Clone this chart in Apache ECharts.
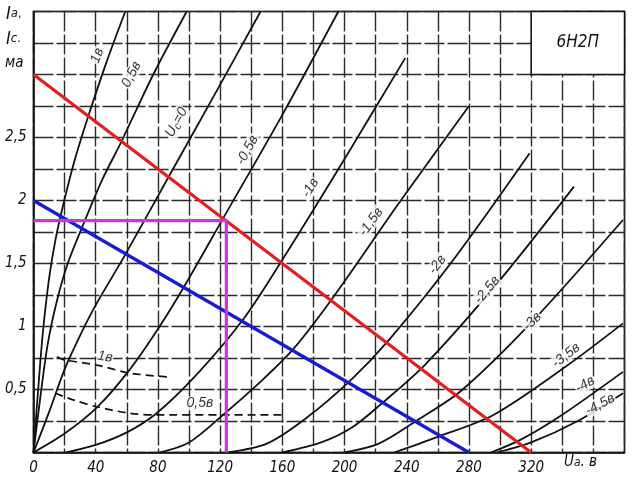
<!DOCTYPE html>
<html><head><meta charset="utf-8">
<script src="https://cdn.jsdelivr.net/npm/echarts@6/dist/echarts.min.js"></script>
<style>html,body{margin:0;padding:0;background:#fff}#c{width:633px;height:480px}</style>
</head><body><div id="c"></div>
<script>
// ---- axis ticks ----
const xTickValues = [0, 40, 80, 120, 160, 200, 240, 280, 320];
const yTickValues = [0.5, 1, 1.5, 2, 2.5];
const yTickText = ['0,5', '1', '1,5', '2', '2,5'];

// ---- anode characteristics Ia(Ua) for grid voltage Uc ----
const curveP1  = [[0,0],[3,0.5],[6,0.95],[10,1.38],[14,1.68],[19,1.96],[26,2.3],[35,2.66],[47,3.1],[59,3.5]];
const curveP05 = [[0,0],[4,0.4],[9,0.85],[15,1.2],[22,1.5],[32,1.81],[44,2.16],[57,2.48],[77,3.0],[98.5,3.5]];
const curve0   = [[0,0],[10,0.32],[20,0.66],[30,0.93],[40,1.17],[59,1.57],[87,2.19],[116,2.83],[146,3.5]];
const curveM05 = [[0,0],[20,0.15],[41,0.36],[62,0.66],[80,0.98],[97,1.32],[122,1.86],[160,2.68],[196,3.5]];
const curveM1  = [[21,0],[40,0.06],[60,0.16],[79,0.31],[105,0.62],[135,1.06],[160,1.53],[200,2.33],[239,3.13]];
const curveM15 = [[81,0],[100,0.08],[122,0.3],[145,0.55],[167,0.82],[192,1.22],[235,1.98],[280,2.75]];
const curveM2  = [[125,0],[150,0.07],[175,0.27],[204,0.575],[229,0.9],[270,1.53],[319,2.375]];
const curveM25 = [[160,0],[185,0.08],[205,0.2],[224,0.39],[252,0.7],[300,1.37],[347.5,2.11]];
const curveM3  = [[200,0],[222,0.07],[246,0.25],[275,0.49],[320,1.03],[379,1.845]];
const curveM35 = [[232,0],[259,0.12],[296,0.3],[342,0.68],[379,1.025]];
const curveM4  = [[294,0],[313,0.1],[340,0.3],[379,0.64]];
const curveM45 = [[298,0],[320,0.08],[350,0.25],[379,0.47]];
const solidCurves = [curveP1, curveP05, curve0, curveM05, curveM1, curveM15, curveM2, curveM25, curveM3, curveM35, curveM4, curveM45];

// ---- grid current Ic (dashed) ----
const icP1  = [[15,0.76],[20,0.735],[40.6,0.694],[62,0.63],[86,0.6]];
const icP05 = [[14,0.47],[25,0.42],[40.6,0.363],[62,0.311],[79,0.298],[160,0.298]];

// ---- load lines and operating point ----
const loadRed  = [[0,3],[320,0]];
const loadBlue = [[0,2],[280,0]];
const opPoint  = [[0,1.84],[124,1.84],[124,0]];

// ---- curve labels ----
const labelText = ['1в','0,5в','Uс=0','-0,5в','-1в','-1,5в','-2в','-2,5в','-3в','-3,5в','-4в','-4,5в','1в','0,5в'];
const labelPos  = [[41,3.15],[63,3.0],[92,2.62],[137.5,2.4],[178,2.1],[217,1.83],[259.6,1.49],[291.6,1.29],[320.6,1.04],[342.4,0.77],[354.7,0.54],[364.3,0.38],[46,0.76],[107,0.39]];
const labelRot  = [70,63,61,61,58,54,53,50,45,38,30,28,-8,0];

// ---- title box ----
const boxX = [320, 380];
const boxY = [3.0, 3.5];
const tubeName = '6Н2П';

const font = "'Liberation Sans Narrow','DejaVu Sans Condensed','Liberation Sans',sans-serif";
const lfont = "'Liberation Sans','DejaVu Sans',sans-serif";
const ink = '#111';

const series = [];
solidCurves.forEach(d => series.push({
  type: 'line', data: d, smooth: 0.3, symbol: 'none', silent: true,
  lineStyle: {color: ink, width: 1.8}, z: 3
}));
[icP1, icP05].forEach(d => series.push({
  type: 'line', data: d, smooth: 0.3, symbol: 'none', silent: true,
  lineStyle: {color: ink, width: 1.7, type: [8, 5]}, z: 3
}));
series.push({type:'line', data: loadRed, symbol:'none', lineStyle:{color:'#e41e1e', width:3.2}, z:5});
series.push({type:'line', data: loadBlue, symbol:'none', lineStyle:{color:'#1a1ad2', width:3.2}, z:5});
series.push({type:'line', data: opPoint, symbol:'none', lineStyle:{color:'#c838dc', width:3.2}, z:6});
// title box
series.push({type:'line', data: [], markArea: {silent:true,
  itemStyle:{color:'#fff', borderColor: ink, borderWidth:1.5},
  label:{show:true, position:'inside', formatter: tubeName, fontStyle:'italic', fontSize:17, color: ink, fontFamily: font},
  data: [[{coord:[boxX[0], boxY[1]]}, {coord:[boxX[1], boxY[0]]}]]}, z: 4});
// curve labels
series.push({type:'scatter', symbolSize: 0, silent:true, z: 7,
  data: labelPos.map((p, i) => ({value: p, label: {rotate: labelRot[i], formatter: labelText[i] === 'Uс=0' ? '{n|U}{s|с}{n|=0}' : labelText[i]}})),
  label: {show:true, position:'inside', color: '#000', fontSize: 14, fontStyle:'italic', fontFamily: lfont,
    backgroundColor:'#fff', padding:[0,1],
    rich: {n:{fontSize:14, fontStyle:'italic', fontFamily: lfont, color: '#000'}, s:{fontSize:11, fontStyle:'italic', fontFamily: lfont, color: '#000', verticalAlign:'bottom', padding:[6,0,0,0]}}}
});

const chart = echarts.init(document.getElementById('c'), null, {renderer:'canvas'});
chart.setOption({
  animation: false,
  backgroundColor: '#fff',
  grid: {left: 33.5, right: 8.5, top: 11.5, bottom: 27.5, show: true, borderColor: ink, borderWidth: 1.6},
  xAxis: {type:'value', min:0, max:380, interval:20,
    axisLine:{show:true, lineStyle:{color: ink, width:1.6}}, axisTick:{show:false},
    splitLine:{show:true, lineStyle:{color:'#2a2a2a', width:1.4, type:[20,3]}},
    axisLabel:{color: ink, fontSize:15, fontStyle:'italic', fontFamily: font, margin:8,
      formatter: v => xTickValues.includes(v) ? String(v) : ''}},
  yAxis: {type:'value', min:0, max:3.5, interval:0.25,
    axisLine:{show:true, lineStyle:{color: ink, width:1.6}}, axisTick:{show:false},
    splitLine:{show:true, lineStyle:{color:'#2a2a2a', width:1.4, type:[20,3]}},
    axisLabel:{color: ink, fontSize:15, fontStyle:'italic', fontFamily: font, margin:7,
      formatter: v => { const i = yTickValues.indexOf(v); return i >= 0 ? yTickText[i] : ''; }}},
  graphic: [
    {type:'text', left: 6, top: 5, style:{text:'{n|I}{s|а},', rich:{n:{fontSize:18,fontStyle:'italic',fontFamily:font,fill:ink}, s:{fontSize:13,fontStyle:'italic',fontFamily:font,fill:ink}}}},
    {type:'text', left: 6, top: 30, style:{text:'{n|I}{s|с}.', rich:{n:{fontSize:18,fontStyle:'italic',fontFamily:font,fill:ink}, s:{fontSize:13,fontStyle:'italic',fontFamily:font,fill:ink}}}},
    {type:'text', left: 5, top: 56, style:{text:'ма', fontSize:15, fontStyle:'italic', fontFamily:font, fill:ink}},
    {type:'text', left: 564, top: 455, style:{text:'{n|U}{s|а}{n|. в}', rich:{n:{fontSize:15,fontStyle:'italic',fontFamily:font,fill:ink}, s:{fontSize:12,fontStyle:'italic',fontFamily:font,fill:ink}}}}
  ],
  series: series
});
</script></body></html>
